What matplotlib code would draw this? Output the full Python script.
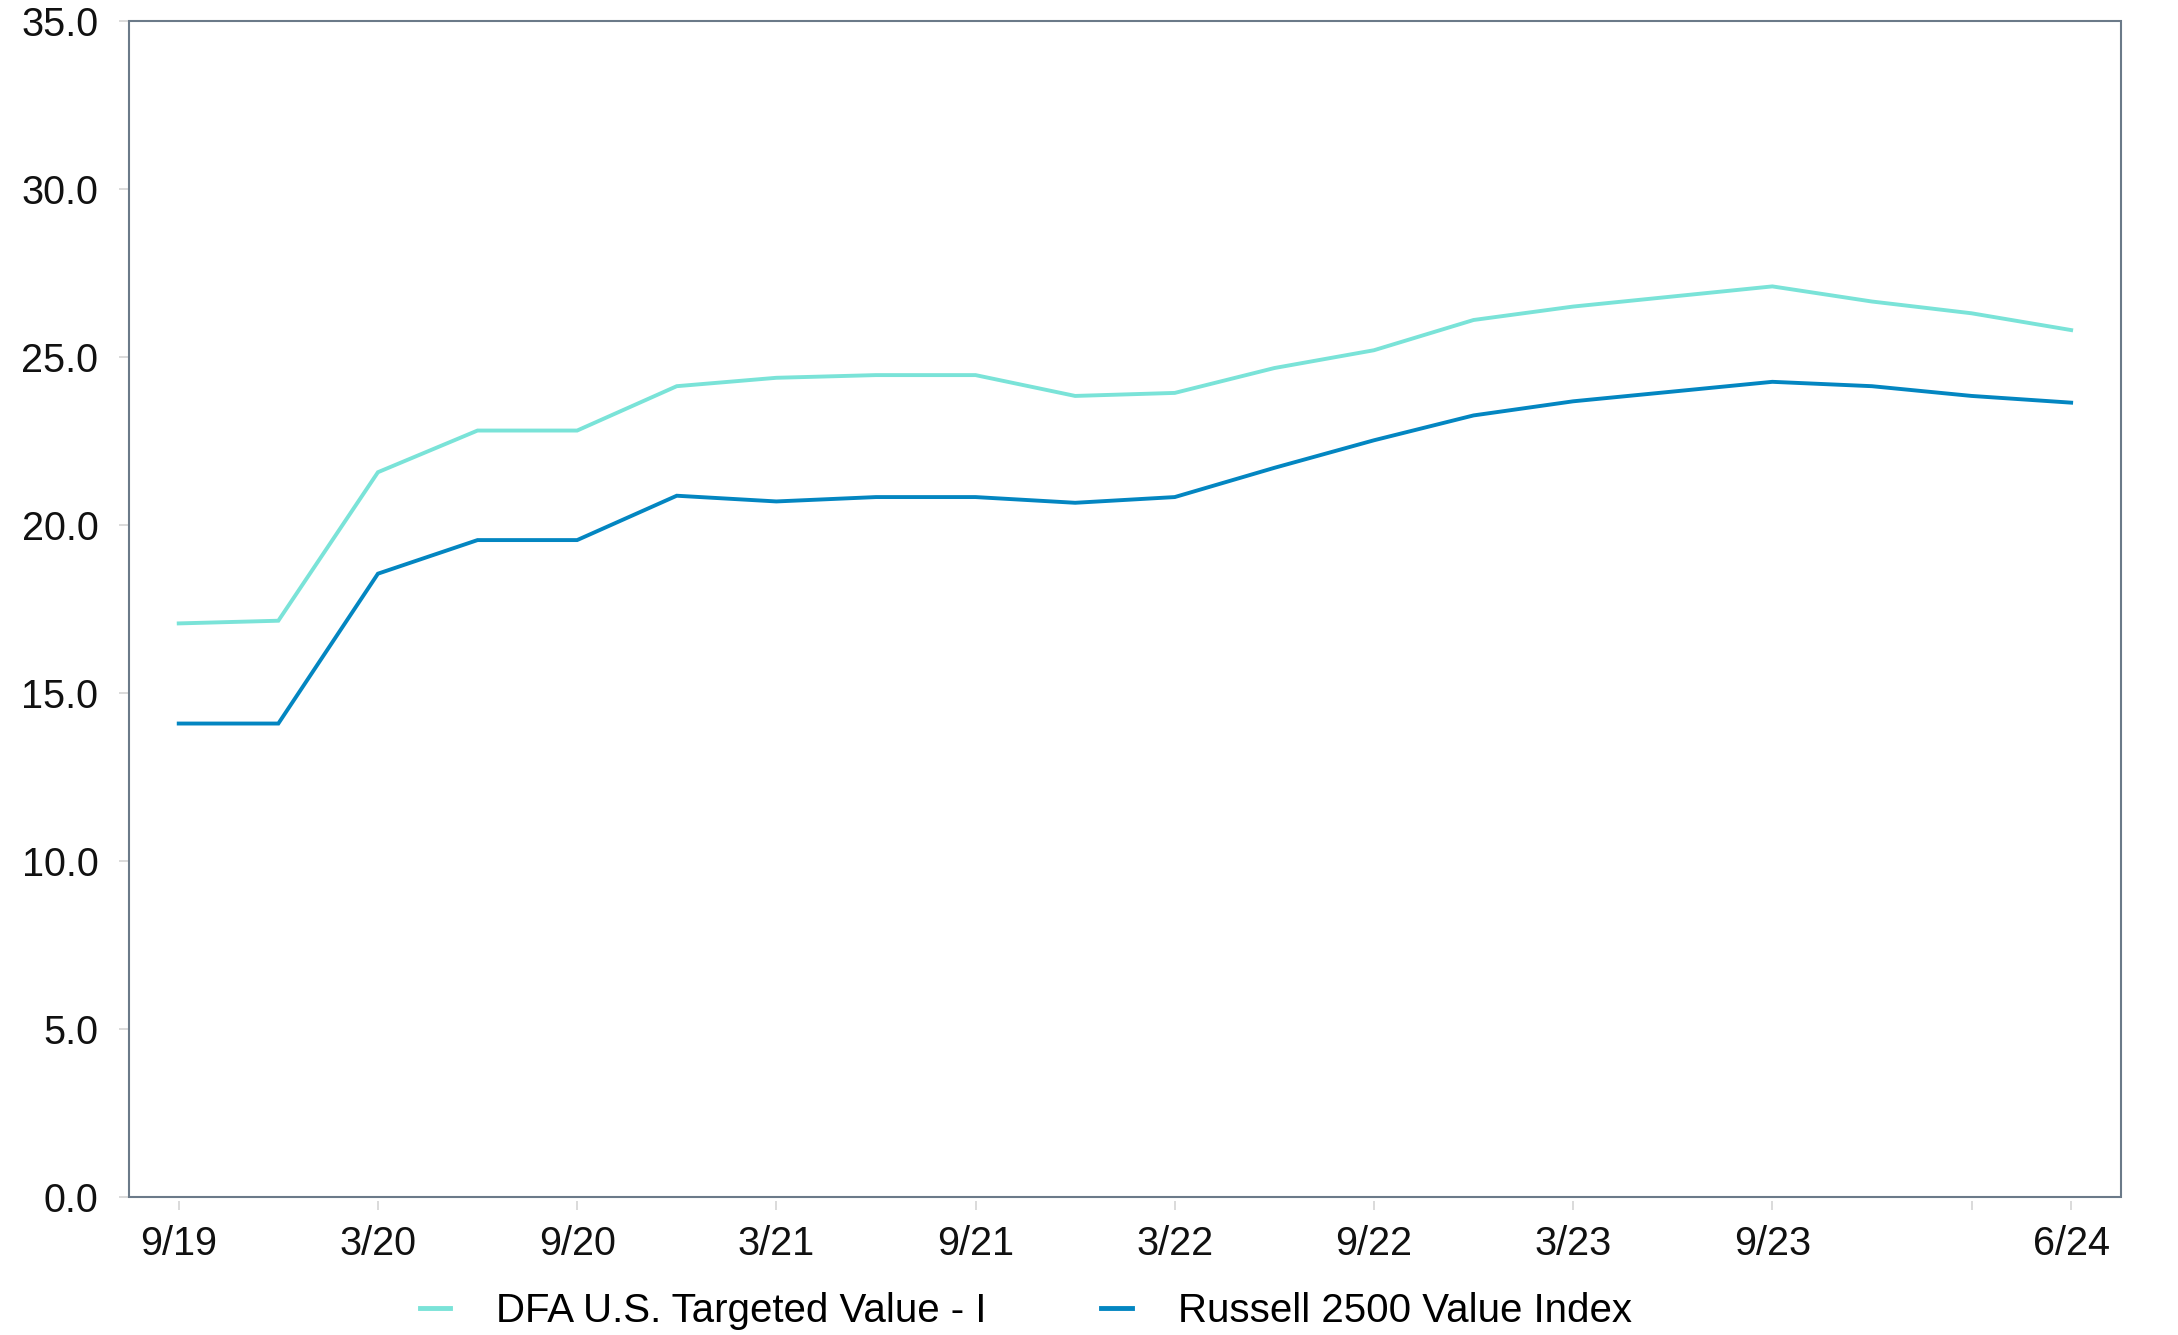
import matplotlib.pyplot as plt
from matplotlib.patches import Rectangle

plt.rcParams['font.family'] = ['Liberation Sans', 'DejaVu Sans']

quarters = ['9/19', '12/19', '3/20', '6/20', '9/20', '12/20', '3/21', '6/21', '9/21', '12/21',
            '3/22', '6/22', '9/22', '12/22', '3/23', '6/23', '9/23', '12/23', '3/24', '6/24']
dfa = [17.07, 17.15, 21.57, 22.81, 22.81, 24.13, 24.38, 24.46, 24.46, 23.84,
       23.93, 24.67, 25.20, 26.10, 26.50, 26.80, 27.10, 26.65, 26.30, 25.80]
russell = [14.09, 14.09, 18.55, 19.55, 19.55, 20.87, 20.70, 20.83, 20.83, 20.66,
           20.83, 21.70, 22.52, 23.26, 23.68, 23.97, 24.26, 24.13, 23.84, 23.64]
series_names = ['DFA U.S. Targeted Value - I', 'Russell 2500 Value Index']
colors = ['#7ae3d8', '#0386c1']

tick_idx = [0, 2, 4, 6, 8, 10, 12, 14, 16, 18, 19]
tick_labels = [quarters[i] if i != 18 else '' for i in tick_idx]

fig = plt.figure(figsize=(21.78, 13.35), dpi=100)
ax = fig.add_axes([0.0592, 0.1034, 0.9146, 0.8809])

x = list(range(len(quarters)))
lines = []
for vals, name, c in zip([dfa, russell], series_names, colors):
    ln, = ax.plot(x, vals, color=c, lw=2.8, label=name, solid_joinstyle='miter')
    lines.append(ln)

ax.set_xlim(-0.5, len(quarters) - 0.5)
ax.set_ylim(0, 35)
ax.set_yticks([0, 5, 10, 15, 20, 25, 30, 35])
ax.set_yticklabels([f'{v:.1f}' for v in [0, 5, 10, 15, 20, 25, 30, 35]])
ax.set_xticks(tick_idx)
ax.set_xticklabels(tick_labels)

for s in ax.spines.values():
    s.set_visible(False)
ax.spines['bottom'].set_position(('outward', 3))
ax.add_patch(Rectangle((0, 0), 1, 1, transform=ax.transAxes, fill=False,
                       edgecolor='#6b7a89', lw=1.5, clip_on=False, zorder=5))

ax.tick_params(axis='x', direction='out', length=6.5, width=1.2, color='#d4d4d4',
               pad=10.5, labelsize=28.5, labelcolor='#111111')
ax.tick_params(axis='y', direction='out', length=7, width=1.2, color='#d4d4d4',
               pad=15, labelsize=28.5, labelcolor='#111111')

leg_handles = [plt.Line2D([], [], color=c, lw=3.5) for c in colors]
fig.legend(leg_handles, series_names, loc='center', bbox_to_anchor=(0.471, 0.018),
           ncol=2, frameon=False, fontsize=29, handlelength=0.75, handletextpad=1.15,
           columnspacing=2.85)

fig.savefig('out.png', dpi=100, facecolor='white')
